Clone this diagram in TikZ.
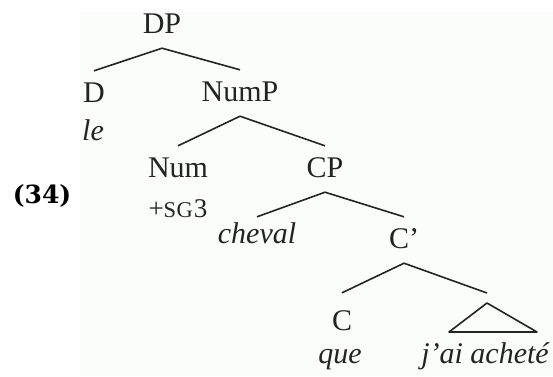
\documentclass[tikz,border=0pt]{standalone}
\usepackage{fontspec}
\setmainfont{Liberation Serif}
\newfontfamily\exnumfont{DejaVu Serif}
\usepackage{tikz}
\definecolor{bgtint}{RGB}{251,253,251}
\definecolor{inkgray}{RGB}{35,35,35}

\begin{document}
\begin{tikzpicture}[x=1pt, y=-1pt,
		cat/.style={font=\fontsize{30}{30}\selectfont, text=inkgray, inner xsep=0pt, inner ysep=10pt,
			text height=21pt, text depth=5pt, anchor=base},
		word/.style={cat, font=\fontsize{30}{30}\selectfont\itshape, inner ysep=5pt},
		feat/.style={font=\fontsize{27}{27}\selectfont, text=inkgray, inner sep=0pt, anchor=base},
		branch/.style={draw=inkgray, line width=1.6pt}
	]
	\useasboundingbox (0,0) rectangle (553,376);
	\fill[bgtint] (80,12) rectangle (553,376);

	\node[font=\exnumfont\bfseries\fontsize{25}{25}\selectfont, inner sep=0pt, anchor=base] (exnum) at (42,203) {(34)};

	% the tree
	\node[cat] (dp) at (162,33) {DP};
	\node[cat] (d) at (94,102) {D};
	\node[word] (le) at (93,140) {le};
	\node[cat] (nump) at (240,101) {NumP};
	\node[cat] (num) at (178,177) {Num};
	\node[feat] (sg) at (178,217) {+{\fontsize{22.5}{22.5}\selectfont S\kern.5pt G}\kern1pt3};
	\node[cat] (cp) at (325,177) {CP};
	\node[word] (cheval) at (257,243) {cheval};
	\node[cat] (cbar) at (404,248) {C’};
	\node[cat] (c) at (342,330) {C};
	\node[word] (que) at (340,363) {que};
	\node[word] (jai) at (485,363) {j’ai acheté};
	\coordinate (tri) at (487,303);

	\draw[branch] (dp.south) -- (d.north);
	\draw[branch] (dp.south) -- (nump.north);
	\draw[branch] (nump.south) -- (num.north);
	\draw[branch] (nump.south) -- (cp.north);
	\draw[branch] (cp.south) -- (cheval.north);
	\draw[branch] (cp.south) -- (cbar.north);
	\draw[branch] (cbar.south) -- ([yshift=6pt]c.north);
	\draw[branch] (cbar.south) -- ([yshift=10pt]tri);
	\draw[branch, line join=round] (tri) -- ++(-38,29) -- ++(88,0) -- cycle;
\end{tikzpicture}
\end{document}
